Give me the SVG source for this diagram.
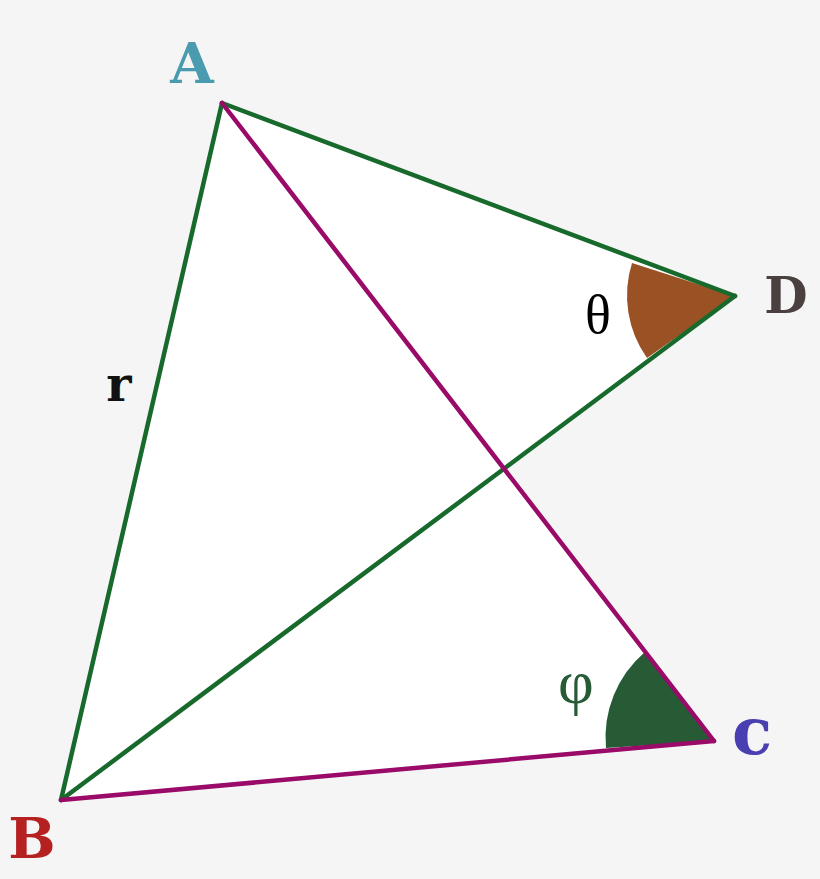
<svg xmlns="http://www.w3.org/2000/svg" width="820" height="879" viewBox="0 0 820 879">
<style>
.lbl{font-family:"DejaVu Serif","Liberation Serif",serif;font-weight:bold;text-anchor:middle}
.greek{font-family:"Liberation Serif","DejaVu Serif",serif;text-anchor:middle}
.g{stroke:#17692c;stroke-width:4.5;fill:none;stroke-linecap:round}
.p{stroke:#9a0a68;stroke-width:4.5;fill:none;stroke-linecap:round}
</style>
<rect width="820" height="879" fill="#f5f5f5"/>
<g id="fill">
<polygon points="222,103 735,296 61,800" fill="#ffffff"/>
<polygon points="222,103 714,741 61,800" fill="#ffffff"/>
</g>
<g id="angle-theta">
<path d="M735,296 L632,263 A108,108 0 0 0 647,358 Z" fill="#9a5224"/>
<text class="greek" x="598" y="333" font-size="54" fill="#000">θ</text>
</g>
<g id="angle-phi">
<path d="M714,741 L645,652 A112,112 0 0 0 606,748 Z" fill="#265b36"/>
<text class="greek" x="576" y="703" font-size="62" fill="#265b36">φ</text>
</g>
<g id="connectors">
<line class="g" x1="222" y1="103" x2="735" y2="296"/>
<line class="g" x1="735" y1="296" x2="61" y2="800"/>
<line class="g" x1="222" y1="103" x2="61" y2="800"/>
<line class="p" x1="222" y1="103" x2="714" y2="741"/>
<line class="p" x1="61" y1="800" x2="714" y2="741"/>
</g>
<g id="A"><text class="lbl" x="192" y="83" font-size="56" fill="#4a9bb0">A</text></g>
<g id="B"><text class="lbl" x="32" y="858" font-size="56" fill="#b52020">B</text></g>
<g id="C"><text class="lbl" x="752" y="754" font-size="66" fill="#4a3fb0">c</text></g>
<g id="D"><text class="lbl" x="786" y="313" font-size="50" fill="#4a4040">D</text></g>
<g id="r"><text class="lbl" x="119" y="401" font-size="48" fill="#111">r</text></g>
</svg>
